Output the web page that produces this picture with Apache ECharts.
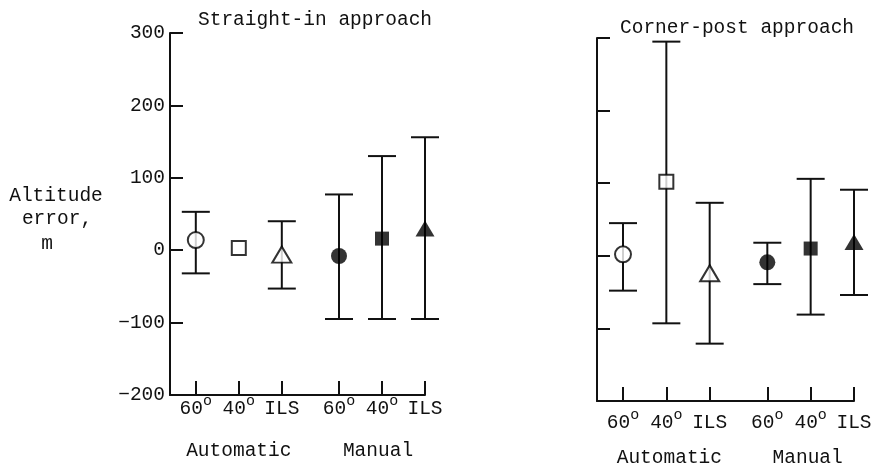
<!DOCTYPE html>
<html>
<head>
<meta charset="utf-8">
<script src="https://cdn.jsdelivr.net/npm/echarts@6/dist/echarts.min.js"></script>
<style>
  html, body { margin: 0; padding: 0; background: #fff; }
  #chart { width: 883px; height: 473px; }
</style>
</head>
<body>
<div id="chart"></div>
<script>
// Condition slots along each x axis (automatic 60°, 40°, ILS, then manual)
const slotLabels = ['60', '40', 'ILS', '60', '40', 'ILS'];
const slotPos = [0, 1, 2, 3.33, 4.33, 5.33];
const yTicks = [-200, -100, 0, 100, 200, 300];

// Straight-in approach: mean altitude error and bar ends, m
const straightMean = [14, 3, -6, -8, 16, 30];
const straightLow = [-32, null, -53, -95, -95, -95];
const straightHigh = [53, null, 40, 77, 130, 156];

// Corner-post approach
const cornerMean = [2, 102, -24, -9, 10, 19];
const cornerLow = [-48, -93, -121, -39, -81, -54];
const cornerHigh = [45, 295, 73, 18, 106, 91];

// Marker per slot: open symbols for automatic, filled for manual
const markerShape = ['circle', 'rect', 'triangle', 'circle', 'rect', 'triangle'];
const markerFilled = [false, false, false, true, true, true];

const FONT = '"Liberation Mono", "DejaVu Sans Mono", monospace';
const FS = 19.5;
const INK = '#111';

function xAxisFor(gridIndex, labelMargin) {
  const sup = { fontFamily: FONT, fontSize: 15, color: INK, verticalAlign: 'bottom', padding: [0, 0, 10, 0] };
  return {
    type: 'value', gridIndex: gridIndex, min: -0.6, max: 5.33,
    splitLine: { show: false },
    axisLine: { onZero: false, lineStyle: { color: INK, width: 2 } },
    axisTick: { inside: true, length: 14, customValues: slotPos, lineStyle: { color: INK, width: 2 } },
    axisLabel: {
      customValues: slotPos, margin: labelMargin, color: INK,
      formatter: function (v) {
        let i = slotPos.findIndex(p => Math.abs(p - v) < 0.01);
        if (i < 0) return '';
        const t = slotLabels[i];
        // degree sign drawn as a raised small "o"; ILS gets an empty strut of the same height
        return t === 'ILS' ? '{n|ILS}{z|\u200b}' : '{n|' + t + '}{s|o}';
      },
      rich: {
        n: { fontFamily: FONT, fontSize: FS, color: INK, verticalAlign: 'bottom' },
        s: sup,
        z: Object.assign({}, sup, { width: 0 })
      }
    }
  };
}

function yAxisFor(gridIndex, showLabels) {
  return {
    type: 'value', gridIndex: gridIndex, min: yTicks[0], max: yTicks[yTicks.length - 1], interval: 100,
    splitLine: { show: false },
    axisLine: { onZero: false, lineStyle: { color: INK, width: 2 } },
    axisTick: { inside: true, length: 13, lineStyle: { color: INK, width: 2 } },
    axisLabel: {
      show: showLabels, margin: 5, color: INK, fontFamily: FONT, fontSize: FS,
      formatter: function (v) { return v < 0 ? '\u2212' + Math.abs(v) : String(v); }
    }
  };
}

function barData(low, high) {
  return slotPos.map((x, i) => [x, low[i], high[i]]).filter(d => d[1] !== null);
}

function markerData(mean) {
  return slotPos.map((x, i) => ({
    value: [x, mean[i]],
    symbol: markerShape[i],
    symbolSize: markerShape[i] === 'circle' ? 16 : (markerShape[i] === 'rect' ? 14 : [19, 16]),
    itemStyle: {
      color: markerFilled[i] ? '#000' : '#fff',
      borderColor: '#000',
      borderWidth: markerFilled[i] ? 0 : 2
    }
  }));
}

function renderBar(params, api) {
  const x = api.value(0);
  const lo = api.coord([x, api.value(1)]);
  const hi = api.coord([x, api.value(2)]);
  const half = 14;
  const style = { stroke: INK, lineWidth: 2 };
  return {
    type: 'group',
    children: [
      { type: 'line', shape: { x1: lo[0], y1: lo[1], x2: hi[0], y2: hi[1] }, style: style },
      { type: 'line', shape: { x1: lo[0] - half, y1: lo[1], x2: lo[0] + half, y2: lo[1] }, style: style },
      { type: 'line', shape: { x1: hi[0] - half, y1: hi[1], x2: hi[0] + half, y2: hi[1] }, style: style }
    ]
  };
}

const chart = echarts.init(document.getElementById('chart'), null, { renderer: 'canvas' });

const textStyle = { fontFamily: FONT, fontSize: FS, fill: INK };

chart.setOption({
  animation: false,
  backgroundColor: '#fff',
  title: [
    { text: 'Straight-in approach', left: 193, top: 5, textStyle: { fontFamily: FONT, fontSize: FS, fontWeight: 'normal', color: INK } },
    { text: 'Corner-post approach', left: 615, top: 13, textStyle: { fontFamily: FONT, fontSize: FS, fontWeight: 'normal', color: INK } }
  ],
  grid: [
    { left: 170, top: 33, width: 255, height: 362 },
    { left: 597, top: 38, width: 257, height: 363 }
  ],
  xAxis: [xAxisFor(0, -1), xAxisFor(1, 7)],
  yAxis: [yAxisFor(0, true), yAxisFor(1, false)],
  series: [
    { type: 'custom', xAxisIndex: 0, yAxisIndex: 0, data: barData(straightLow, straightHigh), renderItem: renderBar, z: 2 },
    { type: 'scatter', xAxisIndex: 0, yAxisIndex: 0, data: markerData(straightMean), z: 3 },
    { type: 'custom', xAxisIndex: 1, yAxisIndex: 1, data: barData(cornerLow, cornerHigh), renderItem: renderBar, z: 2 },
    { type: 'scatter', xAxisIndex: 1, yAxisIndex: 1, data: markerData(cornerMean), z: 3 }
  ]
});

// Group names under the slot groups, and the y-axis caption
const leftAuto = chart.convertToPixel({ xAxisIndex: 0 }, slotPos[1]);
const leftMan = chart.convertToPixel({ xAxisIndex: 0 }, slotPos[4]);
const rightAuto = chart.convertToPixel({ xAxisIndex: 1 }, slotPos[1]);
const rightMan = chart.convertToPixel({ xAxisIndex: 1 }, slotPos[4]);

function caption(text, x, y) {
  return { type: 'text', x: x, y: y, style: Object.assign({ text: text, textAlign: 'center', textVerticalAlign: 'middle' }, textStyle) };
}

chart.setOption({
  graphic: [
    caption('Automatic', leftAuto, 451),
    caption('Manual', leftMan - 4, 451),
    caption('Automatic', rightAuto + 3, 458),
    caption('Manual', rightMan - 3, 458),
    caption('Altitude', 56, 196),
    caption('error,', 57, 219),
    caption('m', 47, 244)
  ]
});
</script>
</body>
</html>
